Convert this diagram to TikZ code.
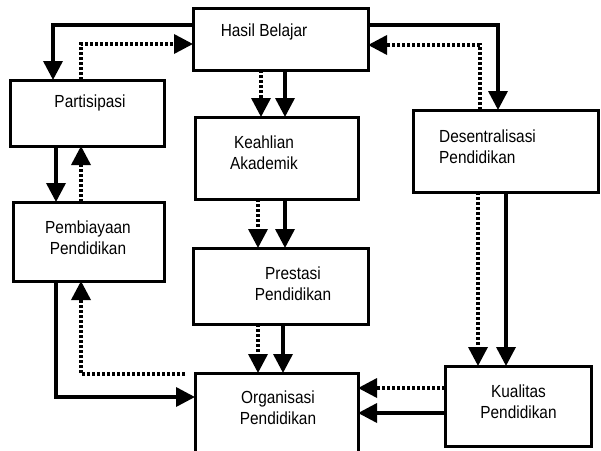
\documentclass[tikz,border=0pt]{standalone}
\usepackage{fontspec}
\setmainfont{Liberation Sans}[FakeStretch=0.88]
\usetikzlibrary{arrows.meta}
\begin{document}
\begin{tikzpicture}[x=1pt,y=-1pt,
  box/.style={draw,line width=3pt,inner sep=0pt,outer sep=0pt},
  label/.style={inner sep=0pt,align=center,font=\fontsize{17.5}{21}\selectfont},
  flow/.style={line width=3.5pt,-{Triangle[width=19pt,length=19pt]}},
  back/.style={flow,dash pattern=on 3pt off 2pt}]
\useasboundingbox (0,0) rectangle (601,450);
\clip (0,0) rectangle (601,450);

% boxes
\node[box,minimum width=175pt,minimum height=62pt] (hasil) at (280.5,39) {};
\node[box,minimum width=154pt,minimum height=66pt] (partisipasi) at (87,113) {};
\node[box,minimum width=163pt,minimum height=82pt] (keahlian) at (276.5,158) {};
\node[box,minimum width=185pt,minimum height=82pt] (desentral) at (505.5,151) {};
\node[box,minimum width=151pt,minimum height=79pt] (pembiayaan) at (88.5,241.5) {};
\node[box,minimum width=175pt,minimum height=76pt] (prestasi) at (280.5,286) {};
\node[box,minimum width=163pt,minimum height=84pt] (organisasi) at (276.5,415) {};
\node[box,minimum width=146pt,minimum height=80pt] (kualitas) at (518,406) {};

% texts
\node[label] (tHasil) at (264,32) {Hasil Belajar};
\node[label] (tPart) at (90,103) {Partisipasi};
\node[label] (tKeah) at (264,152.5) {Keahlian\\Akademik};
\node[label] (tPres) at (293,283.5) {Prestasi\\Pendidikan};
\node[label] (tOrg) at (278,407.5) {Organisasi\\Pendidikan};
\node[label] (tPemb) at (88,237.5) {Pembiayaan\\Pendidikan};
\node[label,align=left,anchor=west] (tDes) at (439,147) {Desentralisasi\\Pendidikan};
\node[label] (tKual) at (518.5,401.5) {Kualitas\\Pendidikan};

% Hasil Belajar <-> Partisipasi
\draw[flow] (hasil.west |- 0,25) -| (partisipasi.north -| 53,0);
\draw[back] (partisipasi.north -| 81,0) |- (hasil.west |- 0,44);

% Hasil Belajar <-> Desentralisasi
\draw[flow] (hasil.east |- 0,25) -| (desentral.north -| 498,0);
\draw[back] (desentral.north -| 480,0) |- (hasil.east |- 0,45);

% middle column
\draw[back] (hasil.south -| 261,0) -- (keahlian.north -| 261,0);
\draw[flow] (hasil.south -| 285,0) -- (keahlian.north -| 285,0);
\draw[back] (keahlian.south -| 258,0) -- (prestasi.north -| 258,0);
\draw[flow] (keahlian.south -| 285,0) -- (prestasi.north -| 285,0);
\draw[back] (prestasi.south -| 258,0) -- (organisasi.north -| 258,0);
\draw[flow] (prestasi.south -| 283,0) -- (organisasi.north -| 283,0);

% Partisipasi <-> Pembiayaan
\draw[flow] (partisipasi.south -| 56,0) -- (pembiayaan.north -| 56,0);
\draw[back] (pembiayaan.north -| 81,0) -- (partisipasi.south -| 81,0);

% Pembiayaan <-> Organisasi
\draw[flow] (pembiayaan.south -| 56,0) |- (organisasi.west |- 0,397);
\draw[back,shorten <=10pt] (organisasi.west |- 0,374) -| (pembiayaan.south -| 81,0);

% Desentralisasi -> Kualitas
\draw[back] (desentral.south -| 478,0) -- (kualitas.north -| 478,0);
\draw[flow] (desentral.south -| 506,0) -- (kualitas.north -| 506,0);

% Kualitas -> Organisasi
\draw[back] (kualitas.west |- 0,388) -- (organisasi.east |- 0,388);
\draw[flow] (kualitas.west |- 0,413) -- (organisasi.east |- 0,413);
\end{tikzpicture}
\end{document}
